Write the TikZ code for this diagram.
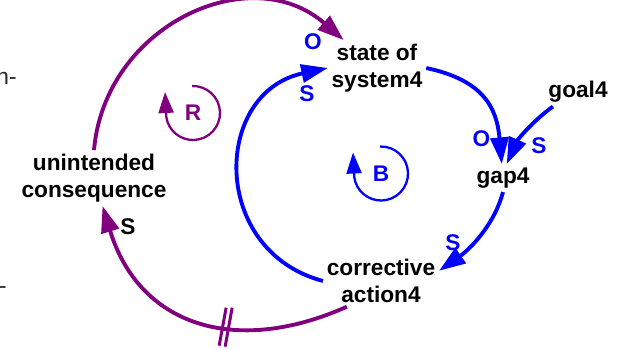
\documentclass[tikz,border=0pt]{standalone}
\usepackage{fontspec}
\setmainfont{Liberation Sans}
\usepackage{tikz}
\usetikzlibrary{arrows.meta,positioning}
\definecolor{cldpurple}{RGB}{128,0,128}
\definecolor{cldblue}{RGB}{0,0,255}

\begin{document}
\begin{tikzpicture}[
  var/.style={align=center, inner sep=2pt, font=\fontsize{12.9}{15.4}\selectfont\bfseries},
  pol/.style={inner sep=0pt, font=\fontsize{12.9}{15.4}\selectfont\bfseries},
  cut/.style={inner sep=0pt, anchor=east, black!85, font=\fontsize{12.9}{15.4}\selectfont},
  plink/.style={-{Triangle[length=0.53cm, width=0.36cm]}, line width=2.2pt, cldpurple},
  blink/.style={-{Triangle[length=0.53cm, width=0.36cm]}, line width=2.2pt, cldblue},
  loopsym/.style={-{Triangle[length=0.42cm, width=0.3cm]}, line width=1.3pt},
  delaymark/.style={line width=1.7pt, cldpurple}
]
  \useasboundingbox (0,0) rectangle (12.5,-6.98);

  % cut off text at the left edge
  \node[cut] (cuta) at (0.34,-1.56) {n-};
  \node[cut] (cutb) at (0.14,-5.80) {-};

  % Variables
  \node[var] (state) at (7.54,-1.36) {state of\\system4};
  \node[var] (goal) at (11.56,-1.84) {goal4};
  \node[var] (gap) at (10.06,-3.56) {gap4};
  \node[var] (action) at (7.62,-5.62) {corrective\\action4};
  \node[var] (uc) at (1.88,-3.56) {unintended\\consequence};

  % Balancing loop
  \draw[blink] (state.east) to[out=-12, in=95, looseness=1.2] (gap.95);
  \draw[blink] (goal.210) to[out=216, in=66, looseness=0.9] (gap.75);
  \draw[blink] (gap.south) to[out=255, in=35, looseness=0.9] (action.10);
  \draw[blink] (action.west) to[out=165, in=192, looseness=1.41] (state.west);

  % Reinforcing loop
  \draw[plink] (action.217) to[out=204, in=-73, looseness=1.2]
    coordinate[pos=0.39] (dl) (uc.287);
  \draw[plink] (uc.north) to[out=85, in=139, looseness=1.17] (state.140);

  % Delay
  \draw[delaymark] ([shift={(0.02,0.40)}]dl) -- ([shift={(-0.12,-0.36)}]dl);
  \draw[delaymark] ([shift={(0.14,0.40)}]dl) -- ([shift={(0,-0.38)}]dl);

  % Polarities
  \node[pol, cldblue] (o1) at (6.26,-0.84) {O};
  \node[pol, cldblue] (s1) at (6.14,-1.87) {S};
  \node[pol, cldblue] (o2) at (9.63,-2.77) {O};
  \node[pol, cldblue] (s2) at (10.78,-2.92) {S};
  \node[pol, cldblue] (s3) at (9.06,-4.85) {S};
  \node[pol] (s4) at (2.56,-4.54) {S};

  % Loop symbols
  \node[pol, cldpurple] (R) at (3.86,-2.26) {R};
  \draw[loopsym, cldpurple] (R.center) ++(92:0.54)
    arc[start angle=92, end angle=-172, radius=0.54] -- ++(-0.025,0.495);
  \node[pol, cldblue] (B) at (7.62,-3.47) {B};
  \draw[loopsym, cldblue] (B.center) ++(92:0.54)
    arc[start angle=92, end angle=-172, radius=0.54] -- ++(-0.025,0.495);
\end{tikzpicture}
\end{document}
